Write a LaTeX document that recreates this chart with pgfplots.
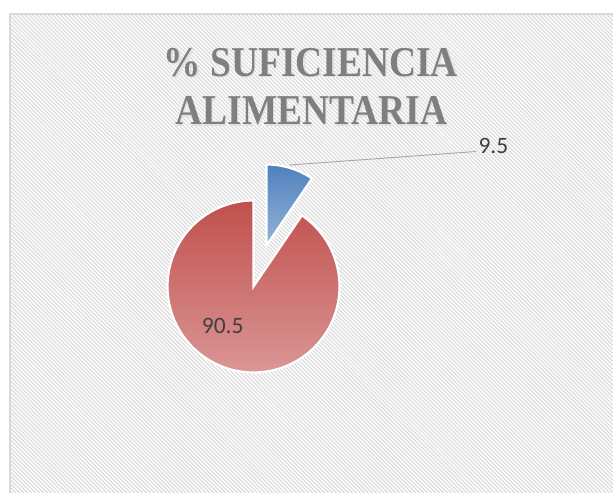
\documentclass[border=0pt]{standalone}
\usepackage{pgfplots}
\pgfplotsset{compat=1.18}
\usepackage{fontspec}
\setmainfont{Carlito}
\newfontfamily\titlefont[FakeStretch=0.88, UprightFont={* Bold}]{Liberation Serif}
\usetikzlibrary{patterns.meta}
\definecolor{redtop}{HTML}{C0504D}
\definecolor{redbot}{HTML}{DA9695}
\definecolor{bluetop}{HTML}{4F81BD}
\definecolor{bluebot}{HTML}{95B3D7}
\definecolor{framegray}{HTML}{D9D9D9}
\definecolor{titlegray}{HTML}{7F7F7F}
\definecolor{labgray}{HTML}{404040}
\definecolor{leader}{HTML}{A6A6A6}
% data
\def\valA{9.5}
\def\valB{90.5}
\begin{document}
\begin{tikzpicture}[x=1bp,y=1bp]
\useasboundingbox (0,0) rectangle (613,493);
% chart area background
\fill[white] (10,-5) rectangle (620,478.7);
\fill[pattern={Lines[angle=-45,distance=2.8bp,line width=1.2bp]}, pattern color=black!14] (10,-5) rectangle (620,478.7);
\draw[framegray, line width=2bp] (10,-5) -- (10,478.7) -- (620,478.7);
\pgfmathsetmacro\angA{90-\valA*3.6}
\pgfmathsetmacro\angB{\angA+360}
\begin{axis}[at={(0,0)}, anchor=south west, width=613bp, height=493bp, scale only axis,
  xmin=0, xmax=613, ymin=0, ymax=493, hide axis, clip=false]
% 90.5 slice
\addplot[draw=white, line width=2.2bp, top color=redtop, bottom color=redbot,
  domain=90:\angB, samples=180, variable=\t]
  ({253.5+86*cos(\t)}, {206.5+86*sin(\t)}) -- (axis cs:253.5,206.5) -- cycle;
% 9.5 slice (exploded)
\addplot[draw=white, line width=2.2bp, top color=bluetop, bottom color=bluebot,
  domain=\angA:90, samples=40, variable=\t]
  ({266.5+81*cos(\t)}, {247.5+81*sin(\t)}) -- (axis cs:266.5,247.5) -- cycle;
% leader line
\addplot[leader, line width=0.9bp] coordinates {(290,328) (476,341.5)};
\node[anchor=base west, inner sep=0, text=labgray, font=\fontsize{23.5bp}{28bp}\selectfont] at (axis cs:201.7,159.7) {\valB};
\node[anchor=base west, inner sep=0, text=labgray, font=\fontsize{23.5bp}{28bp}\selectfont] at (axis cs:478.3,339) {\valA};
\end{axis}
\node[anchor=base, inner sep=0, text=black!12, font=\titlefont\fontsize{42.5bp}{50bp}\selectfont] at (312.2,415.1) {\% SUFICIENCIA};
\node[anchor=base, inner sep=0, text=black!12, font=\titlefont\fontsize{42.5bp}{50bp}\selectfont] at (312.7,366.8) {ALIMENTARIA};
\node[anchor=base, inner sep=0, text=titlegray, font=\titlefont\fontsize{42.5bp}{50bp}\selectfont] at (311,416.3) {\% SUFICIENCIA};
\node[anchor=base, inner sep=0, text=titlegray, font=\titlefont\fontsize{42.5bp}{50bp}\selectfont] at (311.5,368) {ALIMENTARIA};
\end{tikzpicture}
\end{document}
